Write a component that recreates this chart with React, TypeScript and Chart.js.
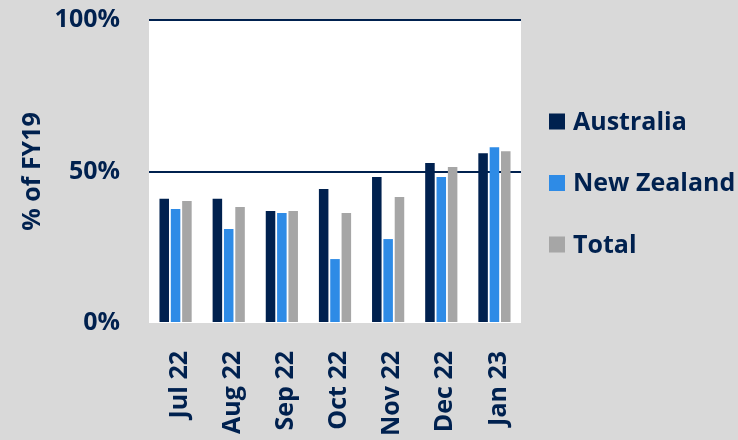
import { useEffect, useRef } from 'react';
import { Chart, registerables } from 'chart.js';

Chart.register(...registerables);

const categories = ['Jul 22', 'Aug 22', 'Sep 22', 'Oct 22', 'Nov 22', 'Dec 22', 'Jan 23'];
const australia = [41, 41, 37, 44.2, 48.2, 52.8, 56];
const newZealand = [37.6, 31, 36.3, 21.1, 27.7, 48.2, 58];
const total = [40.3, 38.3, 37, 36.3, 41.6, 51.5, 56.7];
const seriesNames = ['Australia', 'New Zealand', 'Total'];
const yAxisTitle = '% of FY19';

const NAVY = '#00214f';
const BLUE = '#2e8be6';
const GREY = '#a6a6a6';
const BG = '#d9d9d9';
const FONT = '"Open Sans", "DejaVu Sans", sans-serif';

const plotBg = {
  id: 'plotBg',
  beforeDraw(chart: any) {
    const { ctx, chartArea } = chart;
    ctx.save();
    ctx.fillStyle = '#ffffff';
    ctx.fillRect(chartArea.left, chartArea.top, chartArea.right - chartArea.left, chartArea.bottom - chartArea.top);
    ctx.restore();
  },
};

const customLegend = {
  id: 'customLegend',
  afterDraw(chart: any) {
    const { ctx, chartArea } = chart;
    const midY = (chartArea.top + chartArea.bottom) / 2 + 11.5;
    const x = chartArea.right + 28;
    ctx.save();
    ctx.font = `bold 25px ${FONT}`;
    ctx.textBaseline = 'middle';
    ctx.textAlign = 'left';
    chart.data.datasets.forEach((ds: any, i: number) => {
      const y = midY + (i - 1) * 61.5;
      ctx.fillStyle = ds.backgroundColor;
      ctx.fillRect(x, y - 8, 16, 16);
      ctx.fillStyle = NAVY;
      ctx.fillText(ds.label, x + 24, y + 1);
    });
    ctx.restore();
  },
};

export default function App() {
  const ref = useRef<HTMLCanvasElement>(null);
  useEffect(() => {
    document.body.style.margin = '0';
    const chart = new Chart(ref.current!, {
      type: 'bar',
      data: {
        labels: categories,
        datasets: [
          { label: seriesNames[0], data: australia, backgroundColor: NAVY },
          { label: seriesNames[1], data: newZealand, backgroundColor: BLUE },
          { label: seriesNames[2], data: total, backgroundColor: GREY },
        ],
      },
      options: {
        animation: false,
        responsive: false,
        devicePixelRatio: 1,
        categoryPercentage: 0.64,
        barPercentage: 0.84,
        layout: { padding: { top: 20, right: 217, left: 0, bottom: 0 } },
        plugins: { legend: { display: false }, tooltip: { enabled: false } },
        scales: {
          x: {
            grid: { display: false },
            border: { display: false },
            ticks: {
              minRotation: 90,
              maxRotation: 90,
              padding: 20,
              labelOffset: 4,
              color: NAVY,
              font: { family: FONT, weight: 'bold', size: 25 },
            },
            afterFit: (s: any) => { s.height = 117; s.paddingLeft = 0; s.paddingRight = 0; },
          },
          y: {
            min: 0,
            max: 100,
            border: { display: false },
            grid: {
              drawTicks: false,
              lineWidth: 2,
              color: (c: any) => (c.tick && c.tick.value === 0 ? 'rgba(0,0,0,0)' : NAVY),
            },
            ticks: {
              stepSize: 50,
              padding: 29,
              color: NAVY,
              font: { family: FONT, weight: 'bold', size: 25 },
              callback: (v: any) => v + '%',
            },
            title: {
              display: true,
              text: yAxisTitle,
              color: NAVY,
              padding: { top: 18, bottom: 0 },
              font: { family: FONT, weight: 'bold', size: 25 },
            },
            afterFit: (s: any) => { s.width = 149; s.paddingTop = 0; s.paddingBottom = 0; },
          },
        },
      } as any,
      plugins: [plotBg, customLegend],
    });
    return () => chart.destroy();
  }, []);
  return (
    <div style={{ width: 738, height: 440, background: BG }}>
      <canvas ref={ref} width={738} height={440} style={{ display: 'block' }} />
    </div>
  );
}
